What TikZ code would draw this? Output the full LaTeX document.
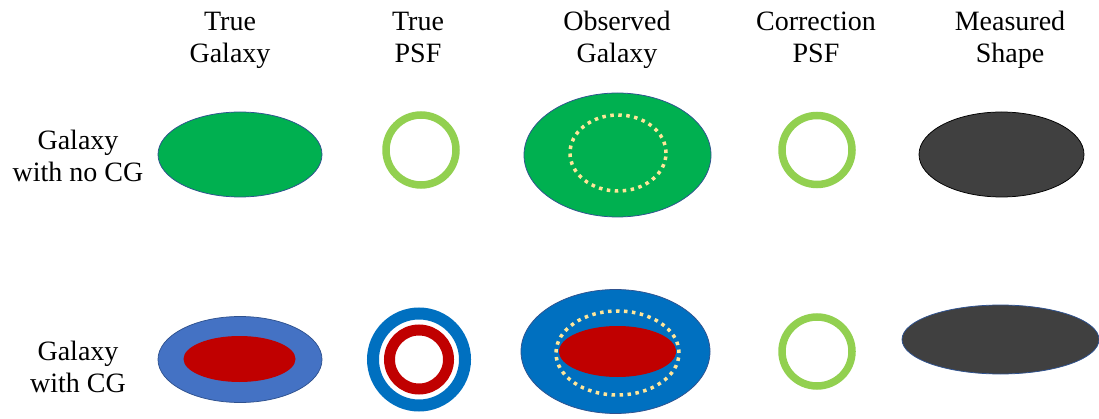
\documentclass[tikz,border=0pt]{standalone}
\usepackage{fontspec}
\setmainfont{Liberation Serif}
\usetikzlibrary{shapes.geometric}

\definecolor{galgreen}{HTML}{00B050}
\definecolor{psfgreen}{HTML}{92D050}
\definecolor{galblue}{HTML}{4472C4}
\definecolor{obsblue}{HTML}{0070C0}
\definecolor{galred}{HTML}{C00000}
\definecolor{shapegray}{HTML}{404040}
\definecolor{rimblue}{HTML}{2F528F}
\definecolor{dotcream}{HTML}{FFE699}

\tikzset{
  head/.style={align=center, anchor=base, inner sep=0, font=\fontsize{28}{32}\selectfont},
  blob/.style={ellipse, inner sep=0, line width=0.75pt},
  ring/.style={ellipse, inner sep=0, draw=psfgreen, line width=7.5pt},
  dotring/.style={ellipse, inner sep=0, draw=dotcream, line width=3.5pt,
    dash pattern=on 3.5pt off 4.5pt}
}

\begin{document}
\begin{tikzpicture}[x=1pt, y=-1pt]

  % Bounding box of the scheme
  \useasboundingbox (0,0) rectangle (1099,419);

  %%%%%%%%%%%%%%%%%%%%%%%%%%%%%%%%% Column titles %%%%%%%%%%%%%%%%%%%%%%%%%%%%%%%%%%%%
  \node[head] (Htg) at (230,63) {True\\Galaxy};
  \node[head] (Htp) at (418,63) {True\\PSF};
  \node[head] (Hog) at (617,63) {Observed\\Galaxy};
  \node[head] (Hcp) at (816,63) {Correction\\PSF};
  \node[head] (Hms) at (1010,63) {Measured\\Shape};

  %%%%%%%%%%%%%%%%%%%%%%%%%%%%%%%%% Row titles %%%%%%%%%%%%%%%%%%%%%%%%%%%%%%%%%%%%
  \node[head] (Rno) at (78,182) {Galaxy\\with no CG};
  \node[head] (Rcg) at (78,392) {Galaxy\\with CG};

  %%%%%%%%%%%%%%%%%%%%%%%%%%%%%%%%% Galaxy with no CG %%%%%%%%%%%%%%%%%%%%%%%%%%%%%%%%%%%%
  \node[blob, fill=galgreen, draw=rimblue, minimum width=164, minimum height=85] (Tg1) at (240,154.5) {};
  \node[ring, minimum width=70, minimum height=70] (Tp1) at (421,150) {};
  \node[blob, fill=galgreen, draw=rimblue, minimum width=187, minimum height=124] (Og1) at (617.5,155) {};
  \node[dotring, minimum width=96, minimum height=76] (Od1) at (618,153) {};
  \node[ring, minimum width=70, minimum height=69] (Cp1) at (817,150) {};
  \node[blob, fill=shapegray, draw=black, minimum width=165, minimum height=85] (Ms1) at (1001.5,154.5) {};

  %%%%%%%%%%%%%%%%%%%%%%%%%%%%%%%%% Galaxy with CG %%%%%%%%%%%%%%%%%%%%%%%%%%%%%%%%%%%%
  \node[blob, fill=galblue, draw=rimblue, minimum width=164, minimum height=86] (Tg2) at (240,359.5) {};
  \node[blob, fill=galred, minimum width=112, minimum height=46] (Tc2) at (239.5,359) {};
  \node[ring, draw=obsblue, line width=12pt, minimum width=92, minimum height=92] (Tp2) at (419,359.5) {};
  \node[ring, draw=galred, line width=11pt, minimum width=59, minimum height=59] (Tr2) at (419,359.5) {};
  \node[blob, fill=obsblue, draw=rimblue, minimum width=189, minimum height=124] (Og2) at (615.5,351.5) {};
  \node[blob, fill=galred, minimum width=117, minimum height=51] (Oc2) at (617.5,351.5) {};
  \node[dotring, minimum width=123, minimum height=84] (Od2) at (617.5,353) {};
  \node[ring, minimum width=70, minimum height=69] (Cp2) at (817,351.5) {};
  \node[blob, fill=shapegray, draw=rimblue, minimum width=197, minimum height=69] (Ms2) at (1000.5,339.5) {};

\end{tikzpicture}
\end{document}
